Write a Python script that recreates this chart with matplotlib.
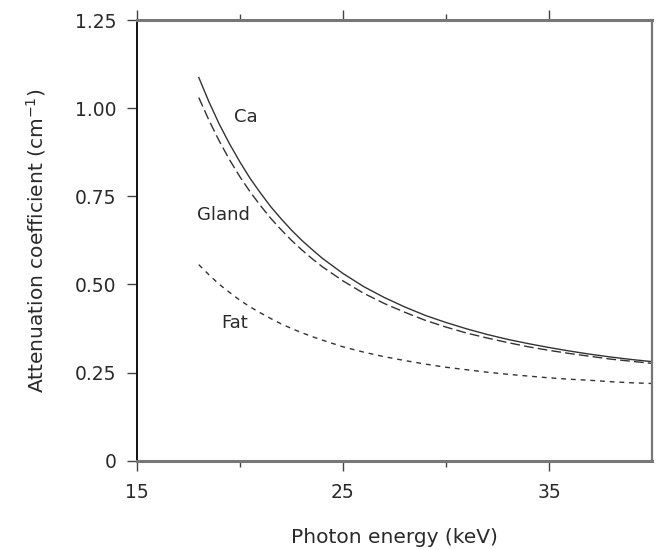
import matplotlib
matplotlib.use("Agg")
import matplotlib.pyplot as plt
from matplotlib.ticker import FixedLocator

energy = [18, 18.5, 19, 19.5, 20, 20.5, 21, 21.5, 22, 22.5, 23, 23.5, 24, 25,
          26, 27, 28, 29, 30, 31, 32, 33, 34, 35, 36, 37, 38, 39, 40]
ca = [1.087, 1.017, 0.954, 0.898, 0.847, 0.800, 0.759, 0.720, 0.686, 0.654,
      0.625, 0.599, 0.574, 0.531, 0.494, 0.463, 0.436, 0.412, 0.392, 0.374,
      0.358, 0.344, 0.332, 0.321, 0.311, 0.302, 0.294, 0.287, 0.281]
gland = [1.030, 0.965, 0.906, 0.853, 0.805, 0.762, 0.723, 0.687, 0.655, 0.625,
         0.598, 0.573, 0.550, 0.510, 0.475, 0.446, 0.421, 0.398, 0.379, 0.362,
         0.348, 0.335, 0.323, 0.313, 0.304, 0.296, 0.288, 0.282, 0.276]
fat = [0.556, 0.527, 0.500, 0.477, 0.455, 0.436, 0.419, 0.403, 0.388, 0.375,
       0.363, 0.352, 0.342, 0.323, 0.308, 0.295, 0.284, 0.274, 0.265, 0.258,
       0.251, 0.245, 0.240, 0.235, 0.231, 0.228, 0.224, 0.221, 0.219]

xticks_major = [15, 25, 35]
xticks_minor = [20, 30]
yticks = [0, 0.25, 0.5, 0.75, 1.0, 1.25]
ytick_labels = ["0", "0.25", "0.50", "0.75", "1.00", "1.25"]

plt.rcParams['font.family'] = ['DejaVu Sans']

fig = plt.figure(figsize=(6.56, 5.5), dpi=100)
ax = fig.add_axes([0.2088, 0.1624, 0.7851, 0.8012])

ink = "#333333"
txt = "#2a2a2a"
ax.plot(energy, ca, color=ink, lw=1.0, ls="-")
ax.plot(energy, gland, color=ink, lw=1.0, ls=(0, (7, 3)))
ax.plot(energy, fat, color=ink, lw=1.0, ls=(0, (3.5, 3.5)))

ax.text(20.29, 0.976, "Ca", ha="center", va="center", fontsize=13, color=txt)
ax.text(19.22, 0.698, "Gland", ha="center", va="center", fontsize=13, color=txt)
ax.text(19.76, 0.391, "Fat", ha="center", va="center", fontsize=13, color=txt)

ax.set_xlim(15, 40)
ax.set_ylim(0, 1.25)
ax.xaxis.set_major_locator(FixedLocator(xticks_major))
ax.xaxis.set_minor_locator(FixedLocator(xticks_minor))
ax.set_yticks(yticks)
ax.set_yticklabels(ytick_labels)

ax.spines['left'].set_color("#111111")
ax.spines['left'].set_linewidth(1.4)
for s in ['bottom', 'top']:
    ax.spines[s].set_color("#777777")
    ax.spines[s].set_linewidth(2.2)
ax.spines['right'].set_color("#777777")
ax.spines['right'].set_linewidth(1.6)

ax.tick_params(axis='x', which='major', direction='out', length=7, width=1.0,
               color="#444444", top=True, labeltop=False, pad=9,
               labelsize=13.5, labelcolor=txt)
ax.tick_params(axis='x', which='minor', direction='out', length=4, width=1.0,
               color="#444444", top=True)
ax.tick_params(axis='y', which='major', direction='out', length=7, width=1.0,
               color="#444444", pad=8, labelsize=13.5, labelcolor=txt)

ax.set_xlabel("Photon energy (keV)", fontsize=14.5, color=txt, labelpad=18.5)
ax.set_ylabel("Attenuation coefficient (cm$^{-1}$)", fontsize=14.5, color=txt,
              labelpad=19.5)

fig.savefig("out.png", dpi=100)
